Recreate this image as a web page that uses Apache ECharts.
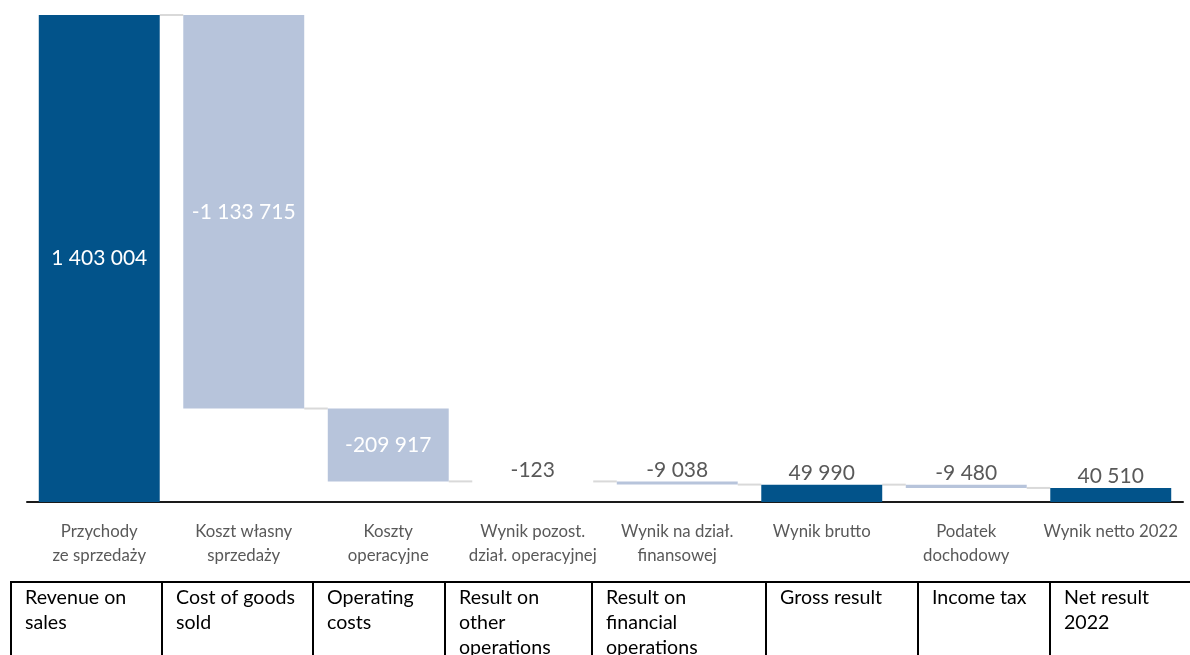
<!DOCTYPE html>
<html>
<head>
<meta charset="utf-8">
<script src="https://cdn.jsdelivr.net/npm/echarts@6/dist/echarts.min.js"></script>
<style>
  html, body { margin: 0; padding: 0; background: #ffffff; }
  #chart { width: 1190px; height: 655px; }
</style>
</head>
<body>
<div id="chart"></div>
<script>
// Polish category names shown under the axis
const categoriesPl = [
  'Przychody\nze sprzedaży',
  'Koszt własny\nsprzedaży',
  'Koszty\noperacyjne',
  'Wynik pozost.\ndział. operacyjnej',
  'Wynik na dział.\nfinansowej',
  'Wynik brutto',
  'Podatek\ndochodowy',
  'Wynik netto 2022'
];
// English names shown in the table row below
const categoriesEn = [
  'Revenue on\nsales',
  'Cost of goods\nsold',
  'Operating\ncosts',
  'Result on\nother\noperations',
  'Result on\nfinancial\noperations',
  'Gross result',
  'Income tax',
  'Net result\n2022'
];
// Amounts (thousands PLN)
const values = [1403004, -1133715, -209917, -123, -9038, 49990, -9480, 40510];
// 'total' bars start at zero, 'delta' bars float from the running sum
const kinds = ['total', 'delta', 'delta', 'delta', 'delta', 'total', 'delta', 'total'];

const COLOR_TOTAL = '#02538A';
const COLOR_DELTA = '#B7C4DB';
const COLOR_CONNECTOR = '#D9D9D9';
const FONT = 'Lato, "Open Sans", sans-serif';

// Table column edges (px) for the English row
const tableEdges = [11, 162, 313, 445, 592, 766, 918, 1050, 1210];
const tableTop = 582;

function fmt(v) {
  const s = Math.abs(v).toString().replace(/\B(?=(\d{3})+(?!\d))/g, ' ');
  return (v < 0 ? '-' : '') + s;
}

// Build the invisible base and the visible height of each bar
const baseData = [];
const barData = [];
const levels = [];
let running = 0;
values.forEach((v, i) => {
  let base, h;
  if (kinds[i] === 'total') {
    base = 0; h = v; running = v;
  } else if (v < 0) {
    base = running + v; h = -v; running += v;
  } else {
    base = running; h = v; running += v;
  }
  levels.push(running);
  baseData.push(base);
  const inside = Math.abs(v) > 100000;
  barData.push({
    value: h,
    itemStyle: { color: kinds[i] === 'total' ? COLOR_TOTAL : COLOR_DELTA },
    label: {
      show: true,
      position: inside ? 'inside' : 'top',
      distance: 1,
      color: inside ? '#ffffff' : '#595959',
      fontFamily: FONT,
      fontSize: 21,
      formatter: () => fmt(v)
    }
  });
});

// Connector lines between neighbouring bars
const connectorData = levels.slice(0, -1).map((lv, i) => [i, lv]);

const BAR_FRACTION = 0.837;

const chart = echarts.init(document.getElementById('chart'), null, { renderer: 'canvas' });

const graphics = [];
graphics.push({
  type: 'line',
  shape: { x1: tableEdges[0], y1: tableTop, x2: 1200, y2: tableTop },
  style: { stroke: '#000000', lineWidth: 2 }
});
tableEdges.forEach(x => {
  graphics.push({
    type: 'line',
    shape: { x1: x, y1: tableTop - 1, x2: x, y2: 700 },
    style: { stroke: '#000000', lineWidth: 2 }
  });
});
categoriesEn.forEach((t, i) => {
  graphics.push({
    type: 'text',
    x: tableEdges[i] + 14,
    y: tableTop + 3,
    style: {
      text: t,
      fill: '#000000',
      font: '19.6px ' + FONT,
      lineHeight: 25,
      verticalAlign: 'top',
      align: 'left'
    }
  });
});

chart.setOption({
  animation: false,
  backgroundColor: '#ffffff',
  grid: { left: 27, right: 7, top: 15, bottom: 153 },
  xAxis: {
    type: 'category',
    data: categoriesPl,
    axisTick: { show: false },
    axisLine: { show: true, lineStyle: { color: '#1a1a1a', width: 2 } },
    axisLabel: {
      color: '#595959',
      fontFamily: FONT,
      fontSize: 16.8,
      lineHeight: 24,
      margin: 18,
      interval: 0
    }
  },
  yAxis: {
    type: 'value',
    min: 0,
    max: 1403004,
    show: false,
    splitLine: { show: false }
  },
  series: [
    {
      type: 'bar',
      stack: 'wf',
      barWidth: (BAR_FRACTION * 100) + '%',
      itemStyle: { color: 'transparent' },
      emphasis: { disabled: true },
      data: baseData
    },
    {
      type: 'bar',
      stack: 'wf',
      barWidth: (BAR_FRACTION * 100) + '%',
      z: 3,
      data: barData
    },
    {
      type: 'custom',
      z: 1,
      silent: true,
      data: connectorData,
      renderItem: function (params, api) {
        const i = api.value(0);
        const lv = api.value(1);
        const band = api.size([1, 0])[0];
        const half = band * BAR_FRACTION / 2;
        const p0 = api.coord([i, lv]);
        const p1 = api.coord([i + 1, lv]);
        return {
          type: 'line',
          shape: { x1: p0[0] + half, y1: p0[1], x2: p1[0] - half, y2: p1[1] },
          style: { stroke: COLOR_CONNECTOR, lineWidth: 2 }
        };
      }
    }
  ],
  graphic: graphics
});
</script>
</body>
</html>
